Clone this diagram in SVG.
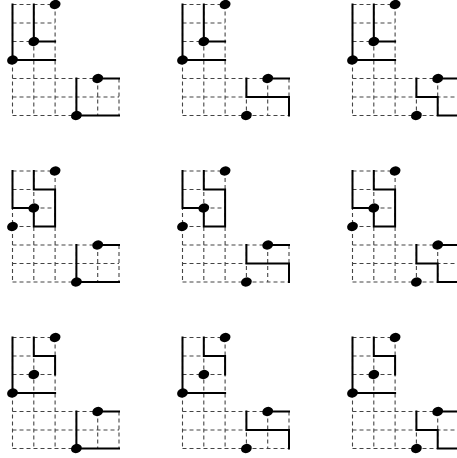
<svg xmlns="http://www.w3.org/2000/svg" xmlns:xlink="http://www.w3.org/1999/xlink" width="457" height="458" viewBox="0 0 457 458">
<style>
.grid{fill:none;stroke:#444;stroke-width:1.1;stroke-dasharray:4,3}
.path{fill:none;stroke:#000;stroke-width:2;stroke-linecap:square}
.dot{fill:#000}
</style>
<defs>
<g id="grid">
<path class="grid" d="M12.5 4.5V115.5M33.8 4.5V115.5M55.1 4.5V115.5M76.4 78.5V115.5M97.7 78.5V115.5M119 78.5V115.5M12.5 4.5H55.1M12.5 23H55.1M12.5 41.5H55.1M12.5 60H55.1M12.5 78.5H119M12.5 97H119M12.5 115.5H119"/>
</g>
<ellipse id="d" class="dot" rx="5.5" ry="4.5" transform="rotate(-20)"/>
<g id="upA"><path class="path" d="M12.5 4.5V60H55.1M33.8 4.5V41.5H55.1"/></g>
<g id="upB"><path class="path" d="M12.5 4.5V41.5H33.8V60H55.1V23H33.8V4.5"/></g>
<g id="upC"><path class="path" d="M12.5 4.5V60H55.1M33.8 4.5V23H55.1V41.5"/></g>
<g id="upDots">
<use xlink:href="#d" transform="translate(55.1 4.5)"/>
<use xlink:href="#d" transform="translate(33.8 41.5)"/>
<use xlink:href="#d" transform="translate(12.5 60)"/>
</g>
<g id="loA"><path class="path" d="M76.4 78.5V115.5H119M97.7 78.5H119"/></g>
<g id="loB"><path class="path" d="M76.4 78.5V97H119V115.5M97.7 78.5H119"/></g>
<g id="loC"><path class="path" d="M76.4 78.5V97H97.7V115.5H119M97.7 78.5H119"/></g>
<g id="loDots">
<use xlink:href="#d" transform="translate(97.7 78.5)"/>
<use xlink:href="#d" transform="translate(76.4 115.5)"/>
</g>
</defs>
<g id="panel-1" transform="translate(0 0)"><use xlink:href="#grid"/><use xlink:href="#upA"/><use xlink:href="#loA"/><use xlink:href="#upDots"/><use xlink:href="#loDots"/></g>
<g id="panel-2" transform="translate(170 0)"><use xlink:href="#grid"/><use xlink:href="#upA"/><use xlink:href="#loB"/><use xlink:href="#upDots"/><use xlink:href="#loDots"/></g>
<g id="panel-3" transform="translate(340 0)"><use xlink:href="#grid"/><use xlink:href="#upA"/><use xlink:href="#loC"/><use xlink:href="#upDots"/><use xlink:href="#loDots"/></g>
<g id="panel-4" transform="translate(0 166.5)"><use xlink:href="#grid"/><use xlink:href="#upB"/><use xlink:href="#loA"/><use xlink:href="#upDots"/><use xlink:href="#loDots"/></g>
<g id="panel-5" transform="translate(170 166.5)"><use xlink:href="#grid"/><use xlink:href="#upB"/><use xlink:href="#loB"/><use xlink:href="#upDots"/><use xlink:href="#loDots"/></g>
<g id="panel-6" transform="translate(340 166.5)"><use xlink:href="#grid"/><use xlink:href="#upB"/><use xlink:href="#loC"/><use xlink:href="#upDots"/><use xlink:href="#loDots"/></g>
<g id="panel-7" transform="translate(0 333)"><use xlink:href="#grid"/><use xlink:href="#upC"/><use xlink:href="#loA"/><use xlink:href="#upDots"/><use xlink:href="#loDots"/></g>
<g id="panel-8" transform="translate(170 333)"><use xlink:href="#grid"/><use xlink:href="#upC"/><use xlink:href="#loB"/><use xlink:href="#upDots"/><use xlink:href="#loDots"/></g>
<g id="panel-9" transform="translate(340 333)"><use xlink:href="#grid"/><use xlink:href="#upC"/><use xlink:href="#loC"/><use xlink:href="#upDots"/><use xlink:href="#loDots"/></g>
</svg>
